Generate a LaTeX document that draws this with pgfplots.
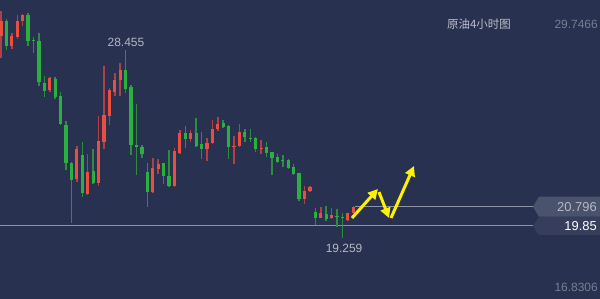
\documentclass[border=0pt]{standalone}
\usepackage{pgfplots}
\pgfplotsset{compat=1.18}
\usepackage{pgfplotstable}
\usetikzlibrary{arrows.meta}
\usepackage{fontspec}
\setmainfont{Liberation Sans}
\newfontfamily\cjk{Noto Sans CJK SC}

\definecolor{bgnavy}{RGB}{41,49,80}
\definecolor{bodyred}{RGB}{234,78,62}
\definecolor{wickred}{RGB}{176,64,68}
\definecolor{bodygreen}{RGB}{42,176,62}
\definecolor{wickgreen}{RGB}{46,140,62}
\definecolor{scalegray}{RGB}{118,126,148}
\definecolor{lblgray}{RGB}{180,184,194}
\definecolor{linegray}{RGB}{140,146,162}
\definecolor{boxhi}{RGB}{74,83,110}
\definecolor{boxlo}{RGB}{54,62,92}

% rising candles: x o h l c
\pgfplotstableread{
x  o      h      l      c
0  29.161 30.387 28.083 29.897
2  28.671 29.308 28.524 29.161
3  29.112 30.191 29.014 29.897
4  29.897 30.240 29.651 30.191
9  26.514 27.151 26.416 27.102
14 22.151 23.769 22.004 23.622
16 21.416 23.377 21.367 22.495
18 21.955 25.240 21.808 24.014
19 23.965 27.691 23.622 25.289
20 25.240 26.612 24.798 26.514
21 26.416 27.348 26.220 27.004
22 27.004 27.838 26.220 27.495
28 21.514 23.181 21.465 22.691
29 22.642 23.132 22.397 22.887
32 21.808 23.671 21.759 23.524
33 23.426 24.553 23.377 24.406
35 24.112 24.553 23.965 24.406
38 23.622 24.161 23.034 23.916
39 23.916 25.044 23.867 24.602
40 24.602 25.191 24.504 24.848
43 23.720 24.259 22.887 23.769
44 23.769 24.848 23.720 24.455
48 23.622 24.063 23.377 23.671
56 21.171 21.808 20.926 21.563
57 21.563 21.808 21.514 21.759
59 20.240 20.779 20.240 20.485
61 20.240 20.730 20.191 20.387
64 20.142 20.485 20.093 20.485
65 20.485 20.828 20.289 20.796
}\redcandles

% falling candles: x o h l c
\pgfplotstableread{
x  o      h      l      c
1  29.897 29.995 28.475 28.671
5  30.191 30.289 28.671 28.916
6  28.965 29.112 28.328 28.916
7  28.916 29.308 26.710 26.906
8  26.857 27.200 26.171 26.465
10 27.053 27.151 26.073 26.171
11 26.220 26.416 24.798 24.848
12 24.798 24.995 22.593 22.936
13 22.936 22.985 19.995 22.102
15 23.328 23.965 21.269 21.465
17 22.544 23.622 21.906 21.955
23 27.495 28.455 26.367 26.563
24 26.661 26.759 23.328 23.818
25 23.818 25.828 22.347 23.720
26 23.720 23.818 23.181 23.377
27 22.495 22.936 20.779 21.514
30 22.936 22.936 21.906 22.298
31 22.298 23.573 21.759 21.808
34 24.406 24.749 23.671 24.112
36 24.406 25.142 23.720 23.769
37 23.867 24.455 23.132 23.622
41 24.897 25.044 24.651 24.700
42 24.749 24.798 23.132 23.720
45 24.455 24.602 23.965 24.210
46 24.161 24.602 23.965 24.112
47 24.161 24.210 23.475 23.622
49 23.720 23.965 23.230 23.426
50 23.475 23.475 22.347 23.181
51 23.230 23.377 22.936 22.985
52 23.083 23.328 22.740 23.034
53 23.083 23.132 22.642 22.691
54 22.740 22.887 22.347 22.397
55 22.446 22.446 21.073 21.171
58 20.534 20.730 19.896 20.240
60 20.436 20.828 20.093 20.191
62 20.338 20.681 19.798 20.289
63 20.289 20.485 19.259 20.240
}\greencandles

\begin{document}
\begin{tikzpicture}
\fill[bgnavy] (0,0) rectangle (600bp,299bp);
\coordinate (R) at (597bp,0);
\begin{axis}[
  at={(0,0)}, anchor=south west,
  width=600bp, height=299bp, scale only axis,
  xmin=-0.1845, xmax=110.52,
  ymin=16.269, ymax=30.926,
  axis lines=none, ticks=none,
  clip=true,
  stick/.style={mark=none, forget plot, line cap=butt},
]
% price levels
\coordinate (tagA) at (axis cs:98.15,20.796);
\coordinate (tagB) at (axis cs:98.15,19.85);
\draw[linegray, line width=0.9bp] (axis cs:65.3,20.796) -- (tagA);
\draw[linegray, line width=0.9bp] (axis cs:-0.5,19.85) -- (tagB);

% wicks: low to high
\addplot[stick, wickred, line width=1.5bp, quiver={u=0, v=\thisrow{h}-\thisrow{l}}]
  table[x=x, y=l] {\redcandles};
\addplot[stick, wickgreen, line width=1.5bp, quiver={u=0, v=\thisrow{h}-\thisrow{l}}]
  table[x=x, y=l] {\greencandles};
% bodies: open to close
\addplot[stick, bodyred, line width=3.2bp, quiver={u=0, v=\thisrow{c}-\thisrow{o}}]
  table[x=x, y=o] {\redcandles};
\addplot[stick, bodygreen, line width=3.2bp, quiver={u=0, v=\thisrow{c}-\thisrow{o}}]
  table[x=x, y=o] {\greencandles};

% expected path
\begin{scope}[yellow, line width=3bp, -{Triangle[length=10bp,width=10bp]}]
\draw (axis cs:64.76,20.240) -- (axis cs:69.56,21.662);
\draw (axis cs:69.74,21.514) -- (axis cs:71.59,20.240);
\draw (axis cs:71.96,20.240) -- (axis cs:76.2,22.789);
\end{scope}

% labels
\node[anchor=east, text=scalegray, font=\fontsize{12}{14}\selectfont, inner sep=0pt] at (axis cs:110.15,29.7466) {29.7466};
\node[anchor=east, text=scalegray, font=\fontsize{12}{14}\selectfont, inner sep=0pt] at (axis cs:110.15,16.8306) {16.8306};
\node[text=lblgray!90!white, font=\cjk\fontsize{11.5}{14}\selectfont, inner sep=0pt] at (axis cs:88.2,29.75) {原油4小时图};
\node[text=lblgray, font=\fontsize{12}{14}\selectfont, inner sep=0pt] at (axis cs:23.05,28.87) {28.455};
\node[text=lblgray, font=\fontsize{12}{14}\selectfont, inner sep=0pt] at (axis cs:63.3,18.77) {19.259};
\end{axis}
% price tags on the right edge
\begin{scope}
\clip (0,0) rectangle (600bp,299bp);
\fill[boxlo] (tagB) -- ++(6bp,9bp) -- ++(70bp,0) -- ++(0,-18bp) -- ++(-70bp,0) -- cycle;
\fill[boxhi] (tagA) -- ++(6bp,10bp) -- ++(70bp,0) -- ++(0,-20bp) -- ++(-70bp,0) -- cycle;
\node[anchor=east, text=lblgray, font=\fontsize{13}{15}\selectfont, inner sep=0pt] at (tagA -| R) {20.796};
\node[anchor=east, text=white, font=\fontsize{13}{15}\selectfont, inner sep=0pt] at (tagB -| R) {19.85};
\end{scope}
\pgfresetboundingbox
\path (0,0) rectangle (600bp,299bp);
\end{tikzpicture}
\end{document}
